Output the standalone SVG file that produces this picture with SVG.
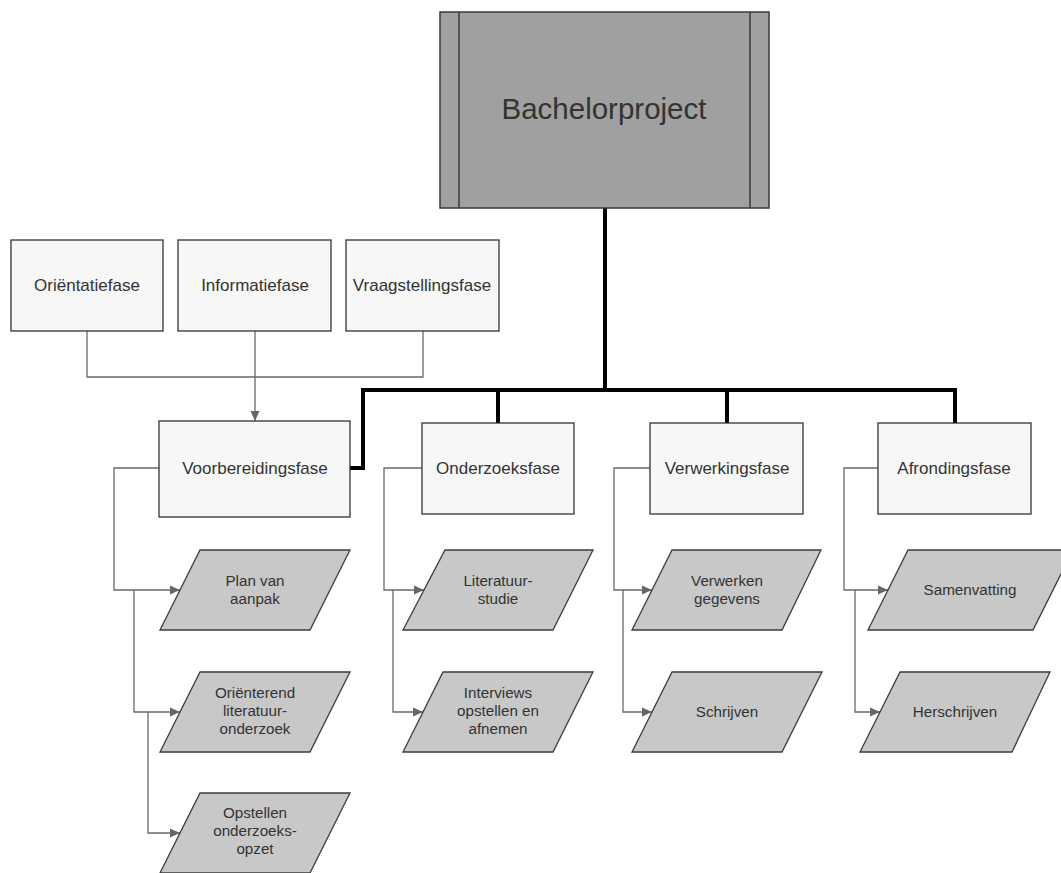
<svg xmlns="http://www.w3.org/2000/svg" width="1061" height="873" viewBox="0 0 1061 873">
<defs>
<marker id="arr" markerUnits="userSpaceOnUse" markerWidth="10" markerHeight="10" viewBox="0 0 10 10" refX="10" refY="5" orient="auto">
<path d="M0,0.5 L10,5 L0,9.5 Z" fill="#666"/>
</marker>
<style>
.box{fill:#f7f7f7;stroke:#333;stroke-width:1.3}
.par{fill:#c8c8c8;stroke:#3c3c3c;stroke-width:1.3}
.t{font-family:"Liberation Sans",Arial,sans-serif;fill:#333;text-anchor:middle}
.ph{font-size:17px}
.pt{font-size:15.2px}
.thin{fill:none;stroke:#6a6a6a;stroke-width:1.3}
.thick{fill:none;stroke:#000;stroke-width:4;stroke-linejoin:miter}
</style>
</defs>
<rect width="1061" height="873" fill="#fff"/>

<g id="connectors">
<path class="thick" d="M605,208 V390"/>
<path class="thick" d="M348,468 H363 V390 H955 V423"/>
<path class="thick" d="M498,390 V423"/>
<path class="thick" d="M727,390 V423"/>
<path class="thin" d="M87,331 V377 H423 V331"/>
<path class="thin" d="M255,331 V421" marker-end="url(#arr)"/>
<path class="thin" d="M159,468 H114 V590 H180" marker-end="url(#arr)"/>
<path class="thin" d="M134,590 V712 H180" marker-end="url(#arr)"/>
<path class="thin" d="M148,712 V833 H180" marker-end="url(#arr)"/>
<path class="thin" d="M422,468 H384 V590 H424" marker-end="url(#arr)"/>
<path class="thin" d="M393,590 V712 H423" marker-end="url(#arr)"/>
<path class="thin" d="M650,468 H614 V590 H652" marker-end="url(#arr)"/>
<path class="thin" d="M623,590 V712 H652" marker-end="url(#arr)"/>
<path class="thin" d="M878,468 H844 V590 H888" marker-end="url(#arr)"/>
<path class="thin" d="M855,590 V712 H880" marker-end="url(#arr)"/>
</g>

<g id="bachelorproject">
<rect x="440" y="12" width="329" height="196" fill="#a0a0a0" stroke="#3a3a3a" stroke-width="1.5"/>
<line x1="459" y1="12" x2="459" y2="208" stroke="#3a3a3a" stroke-width="1.5"/>
<line x1="750" y1="12" x2="750" y2="208" stroke="#3a3a3a" stroke-width="1.5"/>
<text class="t" x="604" y="119" font-size="29.5" fill="#222">Bachelorproject</text>
</g>

<g id="orientatiefase">
<rect class="box" x="11" y="240" width="152" height="91"/>
<text class="t ph" x="87" y="291">Oriëntatiefase</text>
</g>
<g id="informatiefase">
<rect class="box" x="178" y="240" width="153" height="91"/>
<text class="t ph" x="255" y="291">Informatiefase</text>
</g>
<g id="vraagstellingsfase">
<rect class="box" x="346" y="240" width="153" height="91"/>
<text class="t ph" x="422" y="291">Vraagstellingsfase</text>
</g>

<g id="voorbereidingsfase">
<rect class="box" x="159" y="421" width="191" height="96"/>
<text class="t ph" x="255" y="474">Voorbereidingsfase</text>
</g>
<g id="onderzoeksfase">
<rect class="box" x="422" y="423" width="152" height="91"/>
<text class="t ph" x="498" y="474">Onderzoeksfase</text>
</g>
<g id="verwerkingsfase">
<rect class="box" x="650" y="423" width="153" height="91"/>
<text class="t ph" x="727" y="474">Verwerkingsfase</text>
</g>
<g id="afrondingsfase">
<rect class="box" x="878" y="423" width="153" height="91"/>
<text class="t ph" x="954" y="474">Afrondingsfase</text>
</g>

<g id="plan-van-aanpak">
<polygon class="par" points="200,550 350,550 310,630 160,630"/>
<text class="t pt" x="255" y="586">Plan van</text>
<text class="t pt" x="255" y="604">aanpak</text>
</g>
<g id="orienterend-literatuuronderzoek">
<polygon class="par" points="200,672 350,672 310,752 160,752"/>
<text class="t pt" x="255" y="698">Oriënterend</text>
<text class="t pt" x="255" y="716">literatuur-</text>
<text class="t pt" x="255" y="734">onderzoek</text>
</g>
<g id="opstellen-onderzoeksopzet">
<polygon class="par" points="200,793 350,793 310,873 160,873"/>
<text class="t pt" x="255" y="818">Opstellen</text>
<text class="t pt" x="255" y="836">onderzoeks-</text>
<text class="t pt" x="255" y="854">opzet</text>
</g>

<g id="literatuurstudie">
<polygon class="par" points="445,550 593,550 553,630 403,630"/>
<text class="t pt" x="498" y="586">Literatuur-</text>
<text class="t pt" x="498" y="604">studie</text>
</g>
<g id="interviews">
<polygon class="par" points="443,672 593,672 553,752 403,752"/>
<text class="t pt" x="498" y="698">Interviews</text>
<text class="t pt" x="498" y="716">opstellen en</text>
<text class="t pt" x="498" y="734">afnemen</text>
</g>

<g id="verwerken-gegevens">
<polygon class="par" points="672,550 821,550 782,630 632,630"/>
<text class="t pt" x="727" y="586">Verwerken</text>
<text class="t pt" x="727" y="604">gegevens</text>
</g>
<g id="schrijven">
<polygon class="par" points="672,672 822,672 782,752 632,752"/>
<text class="t pt" x="727" y="717">Schrijven</text>
</g>

<g id="samenvatting">
<polygon class="par" points="908,550 1073,550 1033,630 868,630"/>
<text class="t pt" x="970" y="595">Samenvatting</text>
</g>
<g id="herschrijven">
<polygon class="par" points="900,672 1050,672 1012,752 860,752"/>
<text class="t pt" x="955" y="717">Herschrijven</text>
</g>
</svg>
